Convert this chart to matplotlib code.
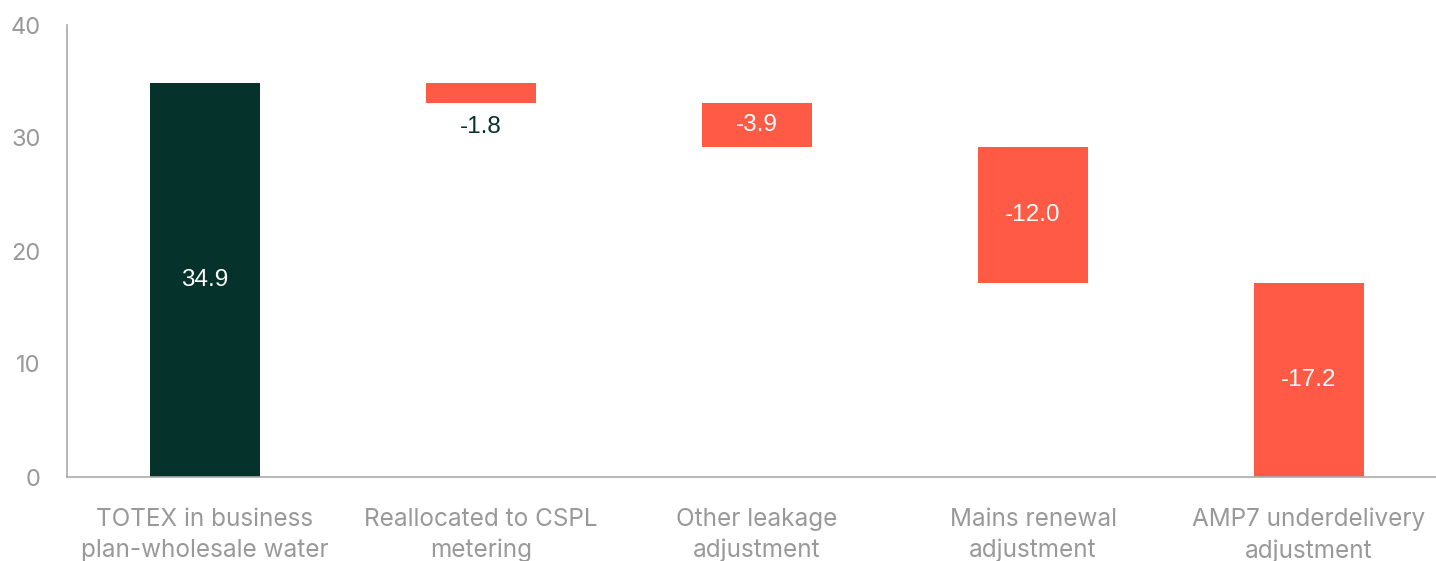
import matplotlib
matplotlib.use("Agg")
import matplotlib.pyplot as plt

# waterfall data
categories = ["TOTEX in business\nplan-wholesale water", "Reallocated to CSPL\nmetering",
              "Other leakage\nadjustment", "Mains renewal\nadjustment", "AMP7 underdelivery\nadjustment"]
values = [34.9, -1.8, -3.9, -12.0, -17.2]
labels = ["34.9", "-1.8", "-3.9", "-12.0", "-17.2"]

DARK = "#05322a"
RED = "#ff5a46"
GREY = "#999999"

fig = plt.figure(figsize=(14.36, 5.61), dpi=100)
ax = fig.add_axes([67/1436, 1 - 477/561, 1 - 67/1436, (477 - 25)/561])

running = 0.0
for i, v in enumerate(values):
    if i == 0:
        bottom, height, col = 0, v, DARK
        running = v
    else:
        bottom = running + v
        height = -v
        col = RED
        running = bottom
    ax.bar(i, height, bottom=bottom, width=0.4, color=col)
    mid = bottom + height / 2
    if height < 3:
        ax.text(i, bottom - 2.1, labels[i], ha="center", va="center", fontsize=17.5,
                color=DARK, family="Liberation Sans")
    else:
        ax.text(i, mid, labels[i], ha="center", va="center", fontsize=17.5,
                color="white", family="Liberation Sans")

ax.set_xlim(-0.5, 4.46)
ax.set_ylim(0, 40)
ax.set_yticks([0, 10, 20, 30, 40])
ax.set_xticks(range(len(categories)))
ax.set_xticklabels(categories)

for s in ["top", "right"]:
    ax.spines[s].set_visible(False)
for s in ["left", "bottom"]:
    ax.spines[s].set_color("#aaaaaa")
    ax.spines[s].set_linewidth(1.2)

ax.tick_params(axis="y", length=0, pad=19, labelsize=17, labelcolor=GREY)
ax.tick_params(axis="x", length=0, pad=22, labelsize=17.5, labelcolor=GREY)
for t in ax.get_xticklabels() + ax.get_yticklabels():
    t.set_family("Inter")
for t in ax.get_xticklabels():
    t.set_linespacing(1.45)

fig.savefig("out.png", dpi=100)
